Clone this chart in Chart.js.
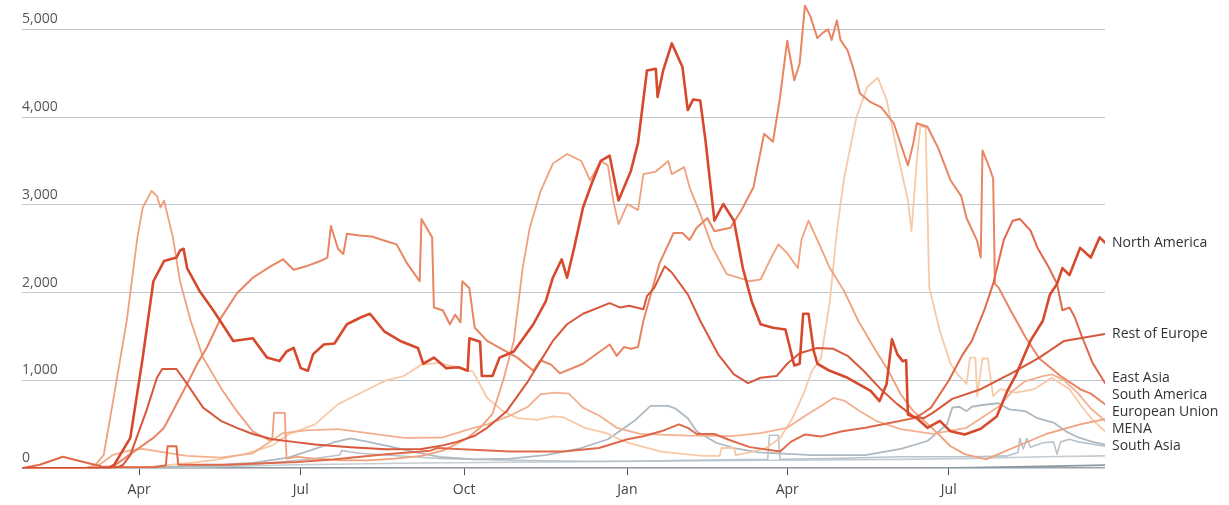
<!DOCTYPE html>
<html>
<head>
<meta charset="utf-8">
<script src="https://cdn.jsdelivr.net/npm/chart.js@4.4.0/dist/chart.umd.min.js"></script>
<style>
  html, body { margin: 0; padding: 0; background: #fff; }
</style>
</head>
<body>
<canvas id="deathsChart" width="1229" height="505"></canvas>
<script>
// x values are days counted from 1 Jan 2020 (91 = 1 Apr 2020, 366 = 1 Jan 2021)
const tickDays = [91, 182, 274, 366, 456, 547];
const tickLabels = ['Apr', 'Jul', 'Oct', 'Jan', 'Apr', 'Jul'];
const yTicks = [0, 1000, 2000, 3000, 4000, 5000];

// [day, daily deaths]
const northAmerica = [[25,0],[74,0],[77,40],[86,345],[93,1260],[99,2130],[105,2360],[112,2400],[114,2480],[116,2500],[118,2280],[125,2020],[133,1790],[144,1450],[155,1480],[163,1260],[170,1220],[174,1330],[178,1370],[182,1140],[186,1110],[189,1300],[195,1410],[201,1420],[208,1640],[216,1720],[221,1760],[229,1560],[238,1450],[248,1370],[251,1190],[257,1260],[264,1140],[271,1150],[276,1110],[277,1480],[283,1440],[284,1050],[290,1050],[294,1260],[302,1330],[313,1640],[320,1900],[324,2170],[329,2380],[332,2170],[336,2510],[341,2970],[346,3250],[351,3500],[356,3560],[361,3050],[368,3390],[372,3710],[377,4530],[382,4550],[383,4230],[386,4520],[391,4840],[397,4570],[400,4080],[403,4200],[407,4190],[410,3730],[415,2820],[420,3010],[426,2820],[431,2280],[436,1900],[441,1640],[448,1600],[455,1580],[460,1170],[463,1190],[465,1760],[468,1760],[471,1330],[473,1190],[480,1110],[490,1030],[497,950],[503,880],[508,765],[512,960],[515,1470],[518,1300],[521,1220],[523,1230],[524,610],[529,570],[535,460],[542,540],[548,420],[556,385],[565,450],[574,590],[580,880],[585,1070],[593,1450],[600,1680],[604,1980],[608,2100],[611,2280],[615,2200],[621,2510],[627,2400],[632,2630],[635,2570]];
const restOfEurope = [[25,0],[78,0],[82,40],[86,150],[95,650],[101,1030],[104,1130],[112,1130],[118,960],[127,690],[137,540],[146,460],[155,390],[166,330],[178,300],[190,270],[210,240],[230,215],[250,220],[262,260],[270,300],[280,370],[287,460],[298,650],[310,990],[317,1220],[324,1450],[332,1640],[341,1760],[356,1880],[362,1830],[367,1850],[375,1810],[377,1960],[381,2050],[387,2300],[391,2230],[400,1980],[407,1680],[417,1300],[426,1070],[434,970],[441,1030],[450,1050],[456,1190],[463,1310],[473,1370],[482,1360],[490,1280],[499,1110],[508,915],[518,730],[527,590],[533,570],[538,630],[549,790],[565,900],[583,1090],[598,1260],[612,1450],[621,1480],[635,1530]];
const eastAsia = [[25,0],[35,40],[48,130],[58,80],[70,20],[85,10],[100,15],[106,30],[107,250],[112,250],[113,40],[140,40],[180,70],[200,100],[230,160],[255,200],[259,230],[270,220],[300,190],[330,190],[350,230],[366,330],[375,365],[385,420],[395,500],[400,460],[405,390],[415,390],[425,310],[435,240],[452,190],[458,300],[466,385],[475,360],[487,420],[500,460],[510,500],[520,540],[527,570],[532,620],[537,690],[547,1000],[555,1300],[560,1450],[567,1800],[572,2100],[578,2600],[583,2820],[587,2840],[593,2710],[597,2510],[603,2300],[608,2100],[611,1800],[615,1830],[618,1720],[622,1500],[628,1200],[635,970]];
const southAmerica = [[25,0],[75,0],[86,160],[99,345],[105,460],[118,960],[124,1200],[129,1370],[137,1710],[146,1990],[155,2170],[165,2300],[172,2380],[178,2260],[185,2300],[193,2360],[197,2400],[199,2760],[203,2500],[206,2440],[208,2670],[215,2650],[222,2640],[228,2600],[236,2550],[242,2330],[249,2130],[250,2840],[254,2700],[256,2630],[257,1830],[262,1800],[266,1640],[269,1750],[272,1660],[273,2130],[277,2050],[280,1600],[287,1450],[294,1370],[304,1260],[313,1110],[317,1230],[323,1180],[328,1080],[341,1190],[356,1410],[360,1280],[364,1380],[368,1360],[372,1380],[375,1680],[384,2330],[392,2680],[397,2680],[401,2600],[405,2740],[411,2850],[415,2700],[424,2740],[430,2930],[437,3200],[443,3810],[448,3720],[452,4230],[456,4870],[460,4420],[463,4610],[466,5270],[469,5150],[473,4900],[476,4960],[479,5000],[481,4880],[484,5100],[486,4880],[490,4760],[493,4570],[497,4270],[503,4170],[509,4110],[516,3930],[524,3450],[527,3700],[529,3930],[535,3890],[541,3650],[548,3280],[554,3100],[557,2850],[563,2590],[565,2400],[566,3620],[570,3420],[572,3300],[573,2100],[575,2060],[582,1790],[590,1500],[598,1250],[610,1050],[621,900],[627,850],[635,730]];
const europeanUnion = [[25,0],[60,0],[66,30],[71,150],[76,730],[84,1680],[90,2630],[93,2970],[98,3160],[101,3100],[103,2970],[105,3050],[110,2630],[114,2130],[120,1680],[127,1260],[137,915],[146,650],[155,420],[165,310],[166,340],[167,630],[173,630],[174,110],[180,130],[190,110],[205,90],[220,90],[235,110],[250,140],[262,200],[275,330],[283,460],[290,620],[296,1000],[302,1450],[307,2280],[311,2740],[317,3150],[324,3470],[332,3580],[340,3500],[345,3280],[351,3500],[355,3450],[358,3050],[361,2780],[366,3010],[372,2940],[375,3350],[382,3380],[389,3500],[391,3350],[398,3430],[401,3200],[407,2900],[414,2510],[422,2210],[435,2130],[441,2150],[447,2400],[451,2550],[456,2450],[462,2280],[464,2600],[468,2820],[475,2510],[480,2280],[488,2020],[496,1680],[505,1370],[513,1110],[520,840],[527,650],[538,450],[548,250],[556,160],[568,100],[583,230],[602,390],[621,500],[635,560]];
const mena = [[25,0],[65,0],[70,60],[76,150],[85,200],[93,220],[105,180],[118,140],[137,120],[155,170],[172,400],[185,430],[203,445],[220,400],[240,345],[262,350],[277,445],[287,500],[300,600],[310,700],[317,840],[325,860],[333,850],[341,690],[350,600],[360,460],[373,390],[400,370],[425,365],[441,400],[456,460],[467,610],[476,720],[482,800],[488,770],[497,650],[506,540],[520,445],[538,390],[557,460],[575,700],[583,880],[590,990],[600,1050],[605,1070],[612,1000],[620,850],[627,680],[635,540]];
const southAsia = [[25,0],[80,0],[100,20],[120,60],[136,100],[150,160],[160,220],[166,260],[175,385],[190,500],[203,730],[220,900],[230,1000],[240,1050],[250,1180],[260,1200],[270,1150],[279,1100],[287,800],[296,650],[304,570],[315,550],[324,590],[330,580],[342,460],[354,400],[366,290],[385,190],[408,140],[418,140],[419,230],[426,230],[427,150],[435,180],[444,230],[452,345],[459,570],[465,840],[470,1110],[475,1250],[480,1900],[484,2700],[488,3300],[495,4000],[501,4340],[507,4450],[512,4200],[518,3600],[524,3050],[526,2700],[529,3500],[531,3900],[534,3880],[536,2060],[542,1560],[548,1190],[552,1070],[557,960],[559,1260],[562,1260],[563,820],[566,1250],[569,1250],[572,820],[576,900],[585,860],[595,900],[605,1030],[615,900],[622,700],[628,550],[635,420]];
const subSaharanAfrica = [[25,0],[80,0],[100,10],[130,30],[155,60],[175,120],[190,220],[200,290],[210,340],[220,300],[232,250],[245,190],[260,130],[280,100],[300,110],[320,150],[340,230],[355,330],[370,540],[379,710],[389,710],[393,680],[400,570],[405,420],[416,290],[426,230],[440,180],[470,150],[500,150],[520,220],[535,310],[546,500],[549,690],[553,700],[557,650],[560,700],[566,720],[575,740],[581,670],[590,650],[597,570],[606,520],[613,420],[620,350],[628,300],[635,270]];
const otherRegions = [[25,0],[100,5],[150,30],[190,110],[204,150],[205,200],[215,170],[230,150],[260,110],[300,90],[340,80],[366,80],[400,90],[445,100],[446,375],[451,375],[452,100],[480,110],[520,130],[560,130],[580,140],[586,180],[587,340],[589,220],[591,340],[593,240],[600,290],[606,300],[608,160],[610,300],[615,330],[620,300],[635,250]];
const centralAsia = [[25,0],[120,10],[180,40],[250,60],[320,70],[380,80],[450,90],[520,100],[560,110],[600,130],[635,140]];
const oceania = [[25,0],[540,0],[560,5],[600,20],[635,35]];

function pts(pairs) {
    return pairs.map(p => ({ x: p[0], y: p[1] }));
}

// first dataset is drawn on top
const datasets = [
    { label: 'North America', data: pts(northAmerica), borderColor: '#d6492c', borderWidth: 2.6, endLabel: true },
    { label: 'Rest of Europe', data: pts(restOfEurope), borderColor: '#d8573b', borderWidth: 2, endLabel: true },
    { label: 'East Asia', data: pts(eastAsia), borderColor: '#e0694a', borderWidth: 2, endLabel: true },
    { label: 'South America', data: pts(southAmerica), borderColor: '#e98563', borderWidth: 2, endLabel: true },
    { label: 'European Union', data: pts(europeanUnion), borderColor: '#f0a07d', borderWidth: 1.8, endLabel: true },
    { label: 'MENA', data: pts(mena), borderColor: '#f3b08f', borderWidth: 1.8, endLabel: true },
    { label: 'South Asia', data: pts(southAsia), borderColor: '#f8c9a6', borderWidth: 1.8, endLabel: true },
    { label: 'Sub-Saharan Africa', data: pts(subSaharanAfrica), borderColor: '#aeb9c2', borderWidth: 1.8 },
    { label: 'Other', data: pts(otherRegions), borderColor: '#b9c3cb', borderWidth: 1.6 },
    { label: 'Central Asia', data: pts(centralAsia), borderColor: '#c3ccd3', borderWidth: 1.6 },
    { label: 'Oceania', data: pts(oceania), borderColor: '#8e989f', borderWidth: 1.8 }
];

const FONT = '"Open Sans", "DejaVu Sans", sans-serif';

// y tick labels sit above the grid lines, region names at the line ends
const annotate = {
    id: 'annotate',
    afterDraw(chart) {
        const { ctx, chartArea, scales } = chart;
        ctx.save();
        ctx.font = '14px ' + FONT;
        ctx.fillStyle = '#555';
        ctx.textAlign = 'left';
        ctx.textBaseline = 'bottom';
        yTicks.forEach(v => {
            ctx.fillText(v.toLocaleString('en-US'), chartArea.left, scales.y.getPixelForValue(v) - 3);
        });

        const items = chart.data.datasets.filter(ds => ds.endLabel).map(ds => ({
            text: ds.label,
            y: scales.y.getPixelForValue(ds.data[ds.data.length - 1].y)
        })).sort((a, b) => a.y - b.y);
        const gap = 17;
        for (let k = 0; k < 300; k++) {
            let moved = false;
            for (let i = 1; i < items.length; i++) {
                const d = items[i].y - items[i - 1].y;
                if (d < gap - 0.05) {
                    const shift = (gap - d) / 2;
                    items[i - 1].y -= shift;
                    items[i].y += shift;
                    moved = true;
                }
            }
            if (!moved) break;
        }
        ctx.fillStyle = '#333';
        ctx.textBaseline = 'middle';
        items.forEach(it => ctx.fillText(it.text, chartArea.right + 7, it.y));
        ctx.restore();
    }
};

new Chart(document.getElementById('deathsChart'), {
    type: 'line',
    data: { datasets: datasets },
    options: {
        responsive: false,
        animation: false,
        parsing: false,
        layout: { padding: { left: 22, right: 124, top: 3, bottom: 1 } },
        plugins: {
            legend: { display: false },
            tooltip: { enabled: false }
        },
        elements: {
            point: { radius: 0 },
            line: { tension: 0, borderJoinStyle: 'round', borderCapStyle: 'round', fill: false }
        },
        scales: {
            x: {
                type: 'linear',
                min: 25,
                max: 635,
                afterBuildTicks: scale => { scale.ticks = tickDays.map(v => ({ value: v })); },
                ticks: {
                    callback: (v, i) => tickLabels[i],
                    autoSkip: false,
                    maxRotation: 0,
                    padding: 6,
                    color: '#444',
                    font: { family: FONT, size: 14 }
                },
                grid: { drawOnChartArea: false, drawTicks: true, tickLength: 7, color: '#555' },
                border: { display: false }
            },
            y: {
                min: 0,
                max: 5300,
                afterBuildTicks: scale => { scale.ticks = yTicks.map(v => ({ value: v })); },
                ticks: { display: false },
                grid: {
                    color: c => (c.tick && c.tick.value === 0) ? '#98a3ab' : '#bcc7cf',
                    lineWidth: c => (c.tick && c.tick.value === 0) ? 1.5 : 1,
                    drawTicks: false
                },
                border: { display: false }
            }
        }
    },
    plugins: [annotate]
});
</script>
</body>
</html>
